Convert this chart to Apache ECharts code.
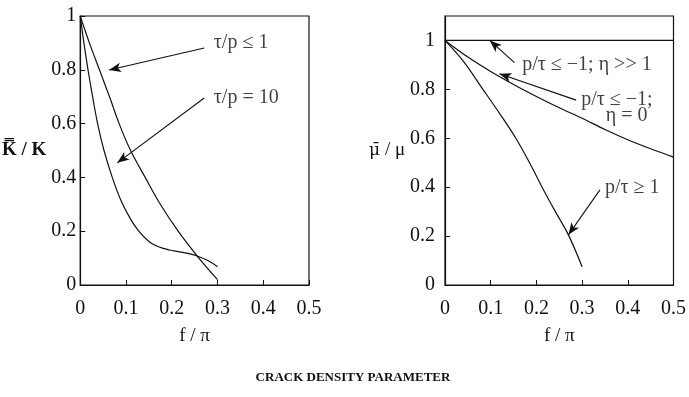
<!DOCTYPE html>
<html>
<head>
<meta charset="utf-8">
<script src="https://cdn.jsdelivr.net/npm/echarts@6/dist/echarts.min.js"></script>
<style>
  html, body { margin: 0; padding: 0; background: #fff; }
  #chart { width: 689px; height: 397px; }
</style>
</head>
<body>
<div id="chart"></div>
<script>
// x values (f/π) and the curves read on each panel
const xTicks = [0, 0.1, 0.2, 0.3, 0.4, 0.5];

// left panel: K̿/K
const kShearX   = [0, 0.02, 0.042, 0.065, 0.085, 0.11, 0.142, 0.175, 0.214, 0.257, 0.3];
const kShearY   = [1, 0.9, 0.8, 0.695, 0.6, 0.5, 0.4, 0.3, 0.2, 0.105, 0.02];
const kRatio10X = [0, 0.008, 0.017, 0.027, 0.038, 0.052, 0.07, 0.09, 0.11, 0.128, 0.15, 0.171, 0.195, 0.214, 0.24, 0.257, 0.28, 0.3];
const kRatio10Y = [1, 0.9, 0.8, 0.7, 0.6, 0.5, 0.4, 0.31, 0.245, 0.2, 0.162, 0.142, 0.13, 0.124, 0.116, 0.107, 0.09, 0.068];

// right panel: μ̄/μ
const muHighEtaX = [0, 0.5];
const muHighEtaY = [1, 1];
const muEta0X = [0, 0.05, 0.1, 0.15, 0.2, 0.25, 0.3, 0.35, 0.4, 0.45, 0.5];
const muEta0Y = [1, 0.932, 0.873, 0.82, 0.771, 0.725, 0.682, 0.636, 0.594, 0.557, 0.523];
const muPosX = [0, 0.04, 0.083, 0.12, 0.155, 0.185, 0.2125, 0.24, 0.27, 0.3];
const muPosY = [1, 0.915, 0.8, 0.7, 0.6, 0.5, 0.4, 0.305, 0.205, 0.075];

// annotation arrows: [fromX, fromY, toX, toY]
const leftArrows = [
  [0.271, 0.881, 0.063, 0.799],
  [0.271, 0.695, 0.081, 0.454]
];
const rightArrows = [
  [0.152, 0.909, 0.098, 1.0],
  [0.287, 0.756, 0.119, 0.864],
  [0.339, 0.389, 0.270, 0.205]
];
// annotation labels: [x, y, text]
const leftNotes = [
  [0.292, 0.90, 'τ/p ≤ 1'],
  [0.292, 0.695, 'τ/p = 10']
];
const rightNotes = [
  [0.169, 0.90, 'p/τ ≤ −1; η >> 1'],
  [0.298, 0.756, 'p/τ ≤ −1;'],
  [0.352, 0.692, 'η = 0'],
  [0.350, 0.397, 'p/τ ≥ 1']
];

const INK = '#111';
const SERIF = '"Liberation Serif", "DejaVu Serif", serif';
const zip = (xs, ys) => xs.map((x, i) => [x, ys[i]]);
const fmt = v => String(+(+v).toFixed(1));

function xAxisFor(idx) {
  return {
    type: 'value', gridIndex: idx, min: 0, max: 0.5, interval: 0.1,
    name: 'f / π', nameLocation: 'middle', nameGap: 42,
    nameTextStyle: { fontFamily: SERIF, fontSize: 19, color: INK },
    axisLine: { show: true, lineStyle: { color: INK, width: 1.2 } },
    axisTick: { show: true, inside: true, length: 5, lineStyle: { color: INK } },
    axisLabel: { formatter: fmt, fontFamily: SERIF, fontSize: 20, color: INK, margin: 14 },
    splitLine: { show: false }
  };
}
function yAxisFor(idx, max, name, gap, margin, nameStyle) {
  return {
    type: 'value', gridIndex: idx, min: 0, max: max, interval: 0.2,
    name: name, nameLocation: 'middle', nameGap: gap, nameRotate: 0,
    nameTextStyle: Object.assign({ fontFamily: SERIF, fontSize: 19, color: INK }, nameStyle),
    axisLine: { show: true, lineStyle: { color: INK, width: 1.2 } },
    axisTick: { show: true, inside: true, length: 5, lineStyle: { color: INK } },
    axisLabel: { formatter: fmt, fontFamily: SERIF, fontSize: 20, color: INK, margin: margin, showMaxLabel: max === 1 },
    splitLine: { show: false }
  };
}
function curve(idx, data) {
  return {
    type: 'line', xAxisIndex: idx, yAxisIndex: idx, data: data,
    smooth: 0.35, showSymbol: false, silent: true,
    lineStyle: { color: INK, width: 1.2 }
  };
}
function arrows(idx, list) {
  return {
    type: 'line', xAxisIndex: idx, yAxisIndex: idx, data: [], silent: true,
    markLine: {
      silent: true, animation: false,
      symbol: ['none', 'arrow'], symbolSize: [7, 12],
      label: { show: false },
      lineStyle: { color: INK, width: 1.1, type: 'solid' },
      data: list.map(a => [{ coord: [a[0], a[1]] }, { coord: [a[2], a[3]] }])
    }
  };
}
function notes(idx, list) {
  return {
    type: 'scatter', xAxisIndex: idx, yAxisIndex: idx, silent: true,
    symbolSize: 0,
    data: list.map(n => ({ value: [n[0], n[1]], name: n[2] })),
    label: {
      show: true, position: 'right', distance: 0,
      formatter: p => p.name,
      fontFamily: SERIF, fontSize: 20, color: INK
    }
  };
}

const chart = echarts.init(document.getElementById('chart'), null, { renderer: 'canvas' });
chart.setOption({
  animation: false,
  backgroundColor: '#fff',
  title: {
    text: 'CRACK DENSITY PARAMETER', left: 348, top: 366, textAlign: 'center',
    textStyle: { fontFamily: SERIF, fontSize: 13, fontWeight: 'bold', color: INK }
  },
  grid: [
    { left: 77, top: 16, width: 232, height: 269, show: true, borderColor: INK, borderWidth: 1.2, backgroundColor: 'transparent' },
    { left: 445, top: 16, width: 232, height: 269, show: true, borderColor: INK, borderWidth: 1.2, backgroundColor: 'transparent' }
  ],
  xAxis: [xAxisFor(0), xAxisFor(1)],
  yAxis: [
    yAxisFor(0, 1, 'K\u033F / K', 30, 4, { fontWeight: 'bold' }),
    yAxisFor(1, 1.1, '{m|μ\u0304} / μ', 38, 10, {
      rich: { m: { fontFamily: '"DejaVu Serif", serif', fontSize: 17, color: INK } }
    })
  ],
  series: [
    curve(0, zip(kShearX, kShearY)),
    curve(0, zip(kRatio10X, kRatio10Y)),
    curve(1, zip(muHighEtaX, muHighEtaY)),
    curve(1, zip(muEta0X, muEta0Y)),
    curve(1, zip(muPosX, muPosY)),
    arrows(0, leftArrows),
    arrows(1, rightArrows),
    notes(0, leftNotes),
    notes(1, rightNotes)
  ]
});
</script>
</body>
</html>
